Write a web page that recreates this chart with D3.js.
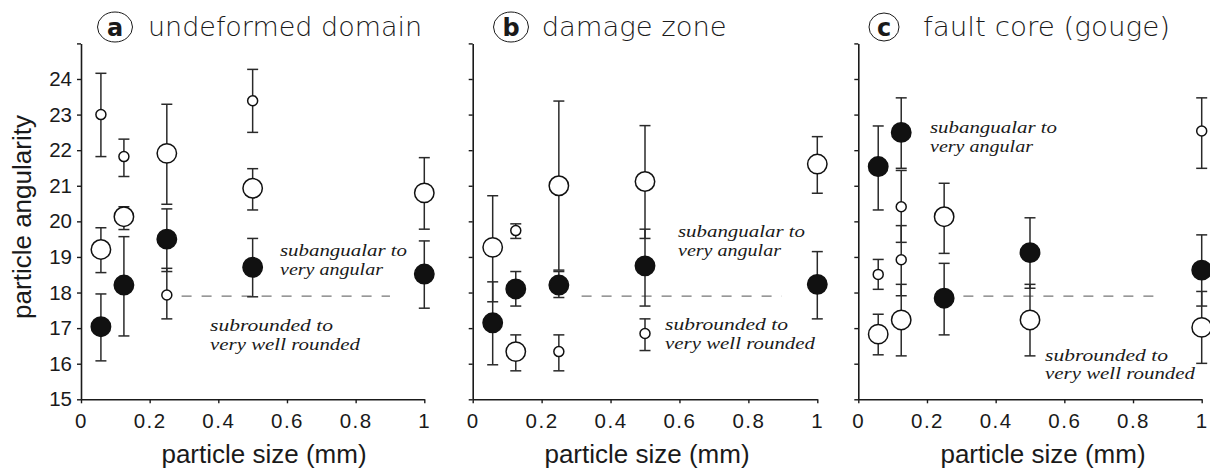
<!DOCTYPE html>
<html>
<head>
<meta charset="utf-8">
<script src="https://cdn.jsdelivr.net/npm/d3@7"></script>
<style>
  html, body { margin: 0; padding: 0; background: #fff; }
  svg { display: block; }
</style>
</head>
<body>
<div id="chart"></div>
<script>
// ---------------- DATA ----------------
const particleSizes = [0.058, 0.125, 0.25, 0.5, 1];
const xTickValues = [0, 0.2, 0.4, 0.6, 0.8, 1];
const yTickValues = [15, 16, 17, 18, 19, 20, 21, 22, 23, 24, 25];
const panelLetters = ["a", "b", "c"];
const panelTitles = ["undeformed domain", "damage zone", "fault core (gouge)"];
const thresholdValue = 17.9;
const thresholdStart = [0.293, 0.316, 0.306];
const thresholdEnd = [0.90, 0.897, 0.883];
const upperLabel = ["subangualar to", "very angular"];
const lowerLabel = ["subrounded to", "very well rounded"];

// each entry: [mean, low, high] per particle size (null = no sample)
const undeformedSmall = [[23.0, 21.82, 24.16], [21.82, 21.26, 22.31], [17.93, 17.26, 18.68], [23.39, 22.50, 24.27], null];
const undeformedLarge = [[19.21, 18.56, 19.82], [20.13, 19.77, 20.41], [21.91, 20.48, 23.29], [20.93, 20.32, 21.48], [20.80, 19.78, 21.79]];
const undeformedFilled = [[17.04, 16.08, 17.96], [18.21, 16.78, 19.57], [19.50, 18.59, 20.35], [18.71, 17.88, 19.52], [18.52, 17.56, 19.45]];

const damageSmall = [null, [19.74, 19.52, 19.93], [16.34, 15.80, 16.81], [16.85, 16.37, 17.26], null];
const damageLarge = [[19.27, 17.74, 20.72], [16.34, 15.80, 16.81], [21.00, 18.63, 23.38], [21.12, 19.52, 22.69], [21.61, 20.79, 22.38]];
const damageFilled = [[17.15, 15.97, 18.30], [18.10, 17.62, 18.59], [18.21, 17.86, 18.59], [18.75, 17.62, 19.78], [18.23, 17.26, 19.15]];

const coreSmall = [[18.51, 18.09, 18.93], [20.41, 19.41, 21.43], null, null, [22.54, 21.49, 23.47]];
const coreSmall2 = [null, [18.92, 17.91, 19.88], null, null, null];
const coreLarge = [[16.83, 16.25, 17.39], [17.23, 16.22, 18.23], [20.13, 19.10, 21.07], [17.23, 16.22, 18.23], [17.02, 16.01, 18.03]];
const coreFilled = [[21.54, 20.32, 22.68], [22.50, 21.49, 23.47], [17.84, 16.81, 18.82], [19.12, 18.12, 20.10], [18.63, 17.62, 19.62]];

// ---------------- LAYOUT ----------------
const W = 1210, H = 473;
const panelX = [[81, 424.3], [472.7, 817.3], [858.3, 1201.7]];
const yRange = [399.3, 43.4];
const xTitleCenter = [264, 647, 1043];
const badge = [{cx: 115, cy: 27, rx: 17.5, ry: 15}, {cx: 511, cy: 27, rx: 17.5, ry: 15}, {cx: 884, cy: 27, rx: 15, ry: 14}];
const titleStart = [148, 541.7, 923];
const titleWidth = [274, 185, 247];
const upperPos = [[280, 256], [678, 237], [930, 133]];
const lowerPos = [[210, 331], [665, 330], [1045, 360.5]];
const upperWidths = [127, 103];
const lowerWidths = [123, 150];

const panels = [
  {series: [{d: undeformedLarge, t: "large"}, {d: undeformedSmall, t: "small"}, {d: undeformedFilled, t: "filled"}]},
  {series: [{d: damageLarge, t: "large"}, {d: damageSmall, t: "small"}, {d: damageFilled, t: "filled"}]},
  {series: [{d: coreLarge, t: "large"}, {d: coreSmall, t: "small"}, {d: coreSmall2, t: "small"}, {d: coreFilled, t: "filled"}]}
];

const svg = d3.select("#chart").append("svg").attr("width", W).attr("height", H);
const sans = "'Liberation Sans', Arial, sans-serif";
const ink = "#1a1a1a";
const y = d3.scaleLinear().domain([15, 25]).range(yRange);

panels.forEach((p, i) => {
  const x = d3.scaleLinear().domain([0, 1]).range(panelX[i]);
  const g = svg.append("g");

  // y axis
  const ya = g.append("g").attr("transform", `translate(${panelX[i][0]},0)`)
    .call(d3.axisLeft(y).tickValues(yTickValues).tickSize(4).tickSizeOuter(0)
      .tickFormat(d => (i === 0 && d < 25) ? d3.format("d")(d) : ""));
  // x axis
  const xa = g.append("g").attr("transform", `translate(0,${yRange[0]})`)
    .call(d3.axisBottom(x).tickValues(xTickValues).tickSize(4).tickSizeOuter(0)
      .tickFormat(d => d === 0 ? "0" : d === 1 ? "1" : d3.format(".1f")(d)));
  [ya, xa].forEach(a => {
    a.select(".domain").attr("stroke", ink).attr("stroke-width", 1.6);
    a.selectAll(".tick line").attr("stroke", ink).attr("stroke-width", 1.4);
    a.selectAll(".tick text").attr("fill", ink).style("font-family", sans).style("font-size", "20.5px");
  });
  ya.selectAll(".tick text").attr("x", -9);
  xa.selectAll(".tick text").attr("y", 14).attr("letter-spacing", 1.5);

  // x title
  g.append("text").attr("x", xTitleCenter[i]).attr("y", 463).attr("text-anchor", "middle")
    .style("font-family", sans).style("font-size", "26px").attr("fill", ink).text("particle size (mm)");

  // threshold dashed line
  g.append("line").attr("x1", x(thresholdStart[i])).attr("x2", x(thresholdEnd[i]))
    .attr("y1", y(thresholdValue)).attr("y2", y(thresholdValue))
    .attr("stroke", "#777").attr("stroke-width", 1.4).attr("stroke-dasharray", "10,10");

  // error bars
  const pts = [];
  p.series.forEach(s => s.d.forEach((v, k) => { if (v) pts.push({x: particleSizes[k], m: v[0], lo: v[1], hi: v[2], t: s.t}); }));
  const eb = g.append("g").attr("stroke", "#2a2a2a").attr("stroke-width", 1.5);
  pts.forEach(d => {
    eb.append("line").attr("x1", x(d.x)).attr("x2", x(d.x)).attr("y1", y(d.lo)).attr("y2", y(d.hi));
    eb.append("line").attr("x1", x(d.x) - 5.5).attr("x2", x(d.x) + 5.5).attr("y1", y(d.lo)).attr("y2", y(d.lo));
    eb.append("line").attr("x1", x(d.x) - 5.5).attr("x2", x(d.x) + 5.5).attr("y1", y(d.hi)).attr("y2", y(d.hi));
  });
  // markers
  g.append("g").selectAll("circle").data(pts).join("circle")
    .attr("cx", d => x(d.x)).attr("cy", d => y(d.m))
    .attr("r", d => d.t === "small" ? 5 : 9.7)
    .attr("fill", d => d.t === "filled" ? "#111" : "#fff")
    .attr("stroke", "#111").attr("stroke-width", 1.5);

  // annotations (two separate lines each)
  const ann = (pos, lines, widths) => {
    lines.forEach((l, j) => {
      g.append("text").attr("x", pos[0]).attr("y", pos[1] + j * 18.5)
        .style("font-family", "'Liberation Serif', 'Times New Roman', serif").style("font-style", "italic")
        .style("font-size", "16.5px").attr("fill", ink)
        .attr("textLength", widths[j]).attr("lengthAdjust", "spacingAndGlyphs")
        .text(l);
    });
  };
  ann(upperPos[i], upperLabel, upperWidths);
  ann(lowerPos[i], lowerLabel, lowerWidths);

  // panel title
  g.append("ellipse").attr("cx", badge[i].cx).attr("cy", badge[i].cy).attr("rx", badge[i].rx).attr("ry", badge[i].ry)
    .attr("fill", "none").attr("stroke", ink).attr("stroke-width", 1);
  g.append("text").attr("x", badge[i].cx).attr("y", badge[i].cy + 8.5).attr("text-anchor", "middle")
    .style("font-family", "'DejaVu Sans', sans-serif").style("font-weight", "bold").style("font-size", "24px")
    .attr("fill", ink).text(panelLetters[i]);
  g.append("text").attr("x", titleStart[i]).attr("y", 36)
    .style("font-family", "'DejaVu Sans', sans-serif").style("font-weight", "200").style("font-size", "26px")
    .attr("textLength", titleWidth[i]).attr("lengthAdjust", "spacingAndGlyphs")
    .attr("fill", ink).text(panelTitles[i]);
});

// y axis title
svg.append("text").attr("transform", "translate(31,217) rotate(-90)").attr("text-anchor", "middle")
  .style("font-family", sans).style("font-size", "26px").attr("fill", ink).text("particle angularity");
</script>
</body>
</html>
